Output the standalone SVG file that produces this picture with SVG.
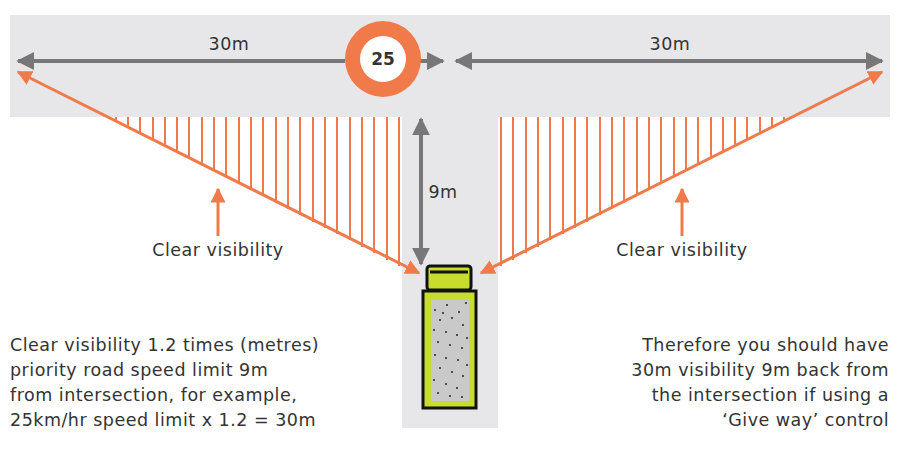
<svg xmlns="http://www.w3.org/2000/svg" width="898" height="460" viewBox="0 0 898 460">
<style>
text{font-family:"DejaVu Sans","Liberation Sans",sans-serif;font-size:17.5px;fill:#333;letter-spacing:0.5px}
.g{stroke:#777;stroke-width:4;fill:none}
.o{stroke:#f07a4a;stroke-width:3;fill:none}
.h{stroke:#f07a4a;stroke-width:2}
</style>
<defs>
<marker id="ga" viewBox="0 0 10 10" refX="9" refY="5" markerWidth="4.5" markerHeight="4.5" orient="auto-start-reverse" markerUnits="strokeWidth"><path d="M0,0L10,5L0,10z" fill="#777"/></marker>
<marker id="oa" viewBox="0 0 10 10" refX="9" refY="5" markerWidth="5" markerHeight="5" orient="auto-start-reverse" markerUnits="strokeWidth"><path d="M0,0L10,5L0,10z" fill="#f07a4a"/></marker>
</defs>
<g id="road" fill="#e7e7e9">
<rect x="10" y="15" width="880" height="102"/>
<rect x="402" y="117" width="96" height="311"/>
</g>
<g id="hatch-left" class="h">
<path d="M116,117V121M128,117V127M140,117V133M153,117V140M165,117V146M177,117V152M189,117V158M202,117V165M214,117V171M226,117V177M239,117V184M251,117V190M263,117V196M276,117V203M288,117V209M300,117V215M313,117V222M325,117V228M337,117V234M350,117V240M362,117V247M374,117V253M387,117V260M399,117V266"/>
</g>
<g id="hatch-right" class="h">
<path d="M784,117V121M772,117V127M760,117V133M747,117V140M735,117V146M723,117V152M711,117V158M698,117V165M686,117V171M674,117V177M661,117V184M649,117V190M637,117V196M624,117V203M612,117V209M600,117V215M587,117V222M575,117V228M563,117V234M550,117V240M538,117V247M526,117V253M513,117V260M501,117V266"/>
</g>
<g id="connectors">
<line class="g" x1="345" y1="61" x2="18" y2="61" marker-end="url(#ga)"/>
<line class="g" x1="420" y1="61" x2="443" y2="61" marker-end="url(#ga)"/>
<line class="g" x1="456" y1="61" x2="882" y2="61" marker-start="url(#ga)" marker-end="url(#ga)"/>
<line class="g" x1="421" y1="119" x2="421" y2="264" marker-start="url(#ga)" marker-end="url(#ga)"/>
<line class="o" x1="419" y1="273" x2="18" y2="72" marker-start="url(#oa)" marker-end="url(#oa)"/>
<line class="o" x1="481" y1="273" x2="882" y2="72" marker-start="url(#oa)" marker-end="url(#oa)"/>
<line class="o" x1="218" y1="236" x2="218" y2="189" marker-end="url(#oa)"/>
<line class="o" x1="682" y1="236" x2="682" y2="189" marker-end="url(#oa)"/>
</g>
<g id="sign">
<circle cx="383" cy="59" r="38" fill="#f07a4a"/>
<circle cx="383" cy="59" r="23" fill="#fff"/>
<text x="383" y="65" text-anchor="middle" font-weight="bold" style="font-size:17px;letter-spacing:0">25</text>
</g>
<g id="car" stroke="#111" stroke-width="3">
<rect x="427" y="266" width="44" height="24" rx="3" fill="#c8dc2e"/>
<line x1="430" y1="272" x2="468" y2="272" stroke-width="3"/>
<rect x="423" y="291" width="53" height="117" fill="#c8dc2e"/>
<rect x="431" y="300" width="38" height="101" fill="#c9c9c9" stroke="none"/>
<g fill="#222" stroke="none">
<circle cx="435" cy="310" r="1"/><circle cx="447" cy="305" r="1"/><circle cx="459" cy="312" r="1"/><circle cx="466" cy="303" r="1"/>
<circle cx="440" cy="320" r="1"/><circle cx="452" cy="318" r="1"/><circle cx="463" cy="325" r="1"/><circle cx="434" cy="330" r="1"/>
<circle cx="446" cy="332" r="1"/><circle cx="457" cy="335" r="1"/><circle cx="467" cy="338" r="1"/><circle cx="438" cy="342" r="1"/>
<circle cx="450" cy="345" r="1"/><circle cx="462" cy="348" r="1"/><circle cx="435" cy="355" r="1"/><circle cx="446" cy="358" r="1"/>
<circle cx="458" cy="360" r="1"/><circle cx="467" cy="365" r="1"/><circle cx="440" cy="368" r="1"/><circle cx="452" cy="372" r="1"/>
<circle cx="463" cy="376" r="1"/><circle cx="434" cy="380" r="1"/><circle cx="446" cy="384" r="1"/><circle cx="457" cy="388" r="1"/>
<circle cx="438" cy="393" r="1"/><circle cx="450" cy="396" r="1"/><circle cx="462" cy="397" r="1"/><circle cx="443" cy="313" r="1"/>
</g>
</g>
<g id="labels">
<text x="229" y="50" text-anchor="middle">30m</text>
<text x="670" y="50" text-anchor="middle">30m</text>
<text x="443" y="198" text-anchor="middle">9m</text>
<text x="218" y="256" text-anchor="middle">Clear visibility</text>
<text x="682" y="256" text-anchor="middle">Clear visibility</text>
<text x="10" y="351">Clear visibility 1.2 times (metres)</text>
<text x="10" y="376">priority road speed limit 9m</text>
<text x="10" y="401">from intersection, for example,</text>
<text x="10" y="426">25km/hr speed limit x 1.2 = 30m</text>
<text x="889" y="351" text-anchor="end">Therefore you should have</text>
<text x="889" y="376" text-anchor="end">30m visibility 9m back from</text>
<text x="889" y="401" text-anchor="end">the intersection if using a</text>
<text x="889" y="426" text-anchor="end">‘Give way’ control</text>
</g>
</svg>
